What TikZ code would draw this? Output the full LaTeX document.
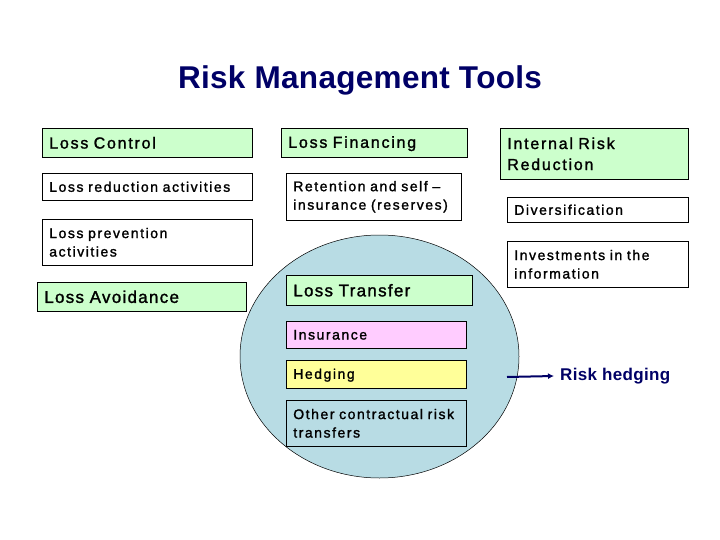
\documentclass[tikz,border=0pt]{standalone}
\usepackage{fontspec}
\usetikzlibrary{shapes.geometric,arrows.meta}
\setmainfont{Liberation Sans}
\definecolor{boxgreen}{HTML}{CCFFCC}
\definecolor{boxpink}{HTML}{FFCCFF}
\definecolor{boxyellow}{HTML}{FFFF99}
\definecolor{circblue}{HTML}{B8DCE4}
\definecolor{navy}{HTML}{000066}
\newcommand{\smallfnt}{\fontsize{14}{18.5}\selectfont\addfontfeatures{LetterSpace=11,FakeBold=1.5}}
\newcommand{\headfnt}{\fontsize{16}{21}\selectfont\addfontfeatures{LetterSpace=11,FakeBold=1.5}}
\newcommand{\bigfnt}{\fontsize{17}{21}\selectfont\addfontfeatures{LetterSpace=7.5,FakeBold=1.5}}
\begin{document}
\begin{tikzpicture}[x=1pt,y=-1pt,
  bx/.style={draw=black,line width=0.6pt,anchor=north west,align=left,inner xsep=7pt,inner ysep=2pt,font=\smallfnt},
  gbx/.style={bx,fill=boxgreen,font=\headfnt},
  oneline/.style={text height=10pt,text depth=4pt}]
\useasboundingbox (0,0) rectangle (720,540);
\node[font=\bfseries\fontsize{31.5}{36}\selectfont\addfontfeatures{LetterSpace=1},text=navy] (title) at (360,80) {Risk Management Tools};
\node[draw=black,line width=0.5pt,fill=circblue,ellipse,minimum width=279pt,minimum height=243pt,inner sep=0pt] (circ) at (379.5,356.5) {};
% column 1
\node[gbx,minimum width=210pt,minimum height=29pt,text width=196pt] (lc) at (42,128) {Loss Control};
\node[bx,minimum width=210pt,minimum height=27pt,text width=196pt] (lra) at (42,173) {Loss reduction activities};
\node[bx,minimum width=210pt,minimum height=46pt,text width=196pt] (lpa) at (42,219) {Loss prevention\\activities};
\node[gbx,minimum width=209pt,minimum height=29pt,text width=195pt,font=\bigfnt] (la) at (37,282) {Loss Avoidance};
% column 2
\node[gbx,minimum width=186pt,minimum height=29pt,text width=172pt,text height=12pt,text depth=2pt] (lf) at (281,128) {Loss Financing};
\node[bx,minimum width=175pt,minimum height=47pt,text width=161pt] (ret) at (286,173) {Retention and self –\\insurance (reserves)};
\node[gbx,minimum width=186pt,minimum height=30pt,text width=172pt,font=\bigfnt] (lt) at (286,275) {Loss Transfer};
\node[bx,fill=boxpink,minimum width=180pt,minimum height=27pt,text width=166pt] (ins) at (286,321) {Insurance};
\node[bx,fill=boxyellow,minimum width=180pt,minimum height=28pt,text width=166pt,text height=11pt,text depth=2pt] (hed) at (286,360) {Hedging};
\node[bx,fill=circblue,minimum width=180pt,minimum height=46pt,text width=166pt] (oth) at (286,400) {Other contractual risk\\transfers};
% column 3
\node[gbx,minimum width=188pt,minimum height=51pt,text width=174pt] (irr) at (500,128) {Internal Risk\\Reduction};
\node[bx,minimum width=181pt,minimum height=25pt,text width=167pt] (div) at (507,197) {Diversification};
\node[bx,minimum width=181pt,minimum height=46pt,text width=167pt] (inv) at (507,241) {Investments in the\\information};
% risk hedging
\coordinate (as) at (507,377);
\node[anchor=west,text=navy,font=\bfseries\fontsize{17}{21}\selectfont\addfontfeatures{LetterSpace=2},inner sep=0pt] (rh) at (560,376) {Risk hedging};
\draw[navy,line width=2pt,-{Latex[length=6pt,width=6pt]}] (as) -- ([xshift=-6pt]rh.west);
\end{tikzpicture}
\end{document}
